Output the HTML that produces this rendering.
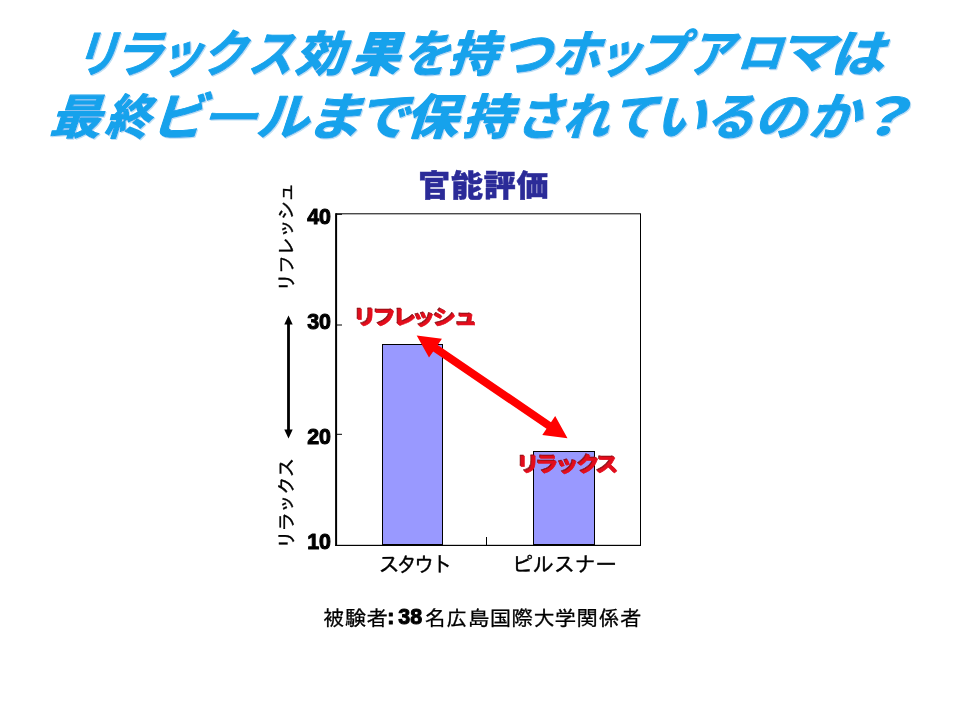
<!DOCTYPE html>
<html lang="ja">
<head>
<meta charset="utf-8">
<title>リラックス効果を持つホップアロマは最終ビールまで保持されているのか？</title>
<style>
html,body{margin:0;padding:0;background:#fff;}
body{width:960px;height:720px;overflow:hidden;position:relative;}
svg{position:absolute;left:0;top:0;display:block;}
.ttl{font-family:"Liberation Sans","Noto Sans CJK JP",sans-serif;font-weight:700;font-size:53.33px;stroke-width:1.1px;stroke-linejoin:round;}
.ct{font-family:"Liberation Sans","Noto Sans CJK JP",sans-serif;font-weight:900;font-size:32px;}
.num{font-family:"Liberation Sans",sans-serif;font-weight:bold;font-size:21.4px;fill:#000;stroke:#000;stroke-width:1px;stroke-linejoin:round;}
.ax{font-family:"Liberation Sans","IPAGothic","Noto Sans CJK JP",sans-serif;font-size:21.33px;fill:#000;stroke:#000;stroke-width:0.35px;}
.ay{font-size:20px;}
.red{font-family:"Liberation Sans","Noto Sans CJK JP",sans-serif;font-weight:700;font-size:20.6px;stroke-width:0.6px;stroke-linejoin:round;}
.capn{font-family:"Liberation Sans",sans-serif;font-weight:bold;font-size:21.4px;stroke:#000;stroke-width:1px;stroke-linejoin:round;letter-spacing:0;}
.cap{font-family:"Liberation Sans","IPAGothic","Noto Sans CJK JP",sans-serif;font-size:21.33px;fill:#000;stroke:#000;stroke-width:0.3px;}
</style>
</head>
<body>
<svg width="960" height="720" viewBox="0 0 960 720">
<defs>
  <filter id="sh1" x="-5%" y="-20%" width="110%" height="140%">
    <feOffset in="SourceAlpha" dx="1.3" dy="1.3" result="o"/>
    <feFlood flood-color="#bfe0f4"/>
    <feComposite in2="o" operator="in" result="s"/>
    <feMerge><feMergeNode in="s"/><feMergeNode in="SourceGraphic"/></feMerge>
  </filter>
  <filter id="sh2" x="-5%" y="-30%" width="110%" height="160%">
    <feOffset in="SourceAlpha" dx="-0.7" dy="-0.8" result="o"/>
    <feFlood flood-color="#8a0c14"/>
    <feComposite in2="o" operator="in" result="s"/>
    <feMerge><feMergeNode in="s"/><feMergeNode in="SourceGraphic"/></feMerge>
  </filter>
</defs>
<rect x="0" y="0" width="960" height="720" fill="#fff"/>

<!-- Title -->
<g class="ttl">
<g fill="#14a2ec" stroke="#14a2ec" filter="url(#sh1)">
<text transform="translate(73.2,72.2) skewX(-18) scale(0.807,0.95)">リ</text><text transform="translate(111,72.2) skewX(-18) scale(0.968,0.95)">ラ</text><text transform="translate(157.5,72.2) skewX(-18) scale(0.839,0.95)">ッ</text><text transform="translate(200.5,72.2) skewX(-18) scale(0.833,0.95)">ク</text><text transform="translate(247,72.2) skewX(-18) scale(0.841,0.95)">ス</text><text transform="translate(294.8,70.5) skewX(-18) scale(0.924,0.89)" stroke-width="1.8">効</text><text transform="translate(350.5,70.5) skewX(-18) scale(0.908,0.89)" stroke-width="1.8">果</text><text transform="translate(401,72.2) skewX(-18) scale(0.89,0.95)">を</text><text transform="translate(448,70.5) skewX(-18) scale(0.912,0.89)" stroke-width="1.8">持</text><text transform="translate(499,72.2) skewX(-18) scale(0.971,0.95)">つ</text><text transform="translate(551,72.2) skewX(-18) scale(0.902,0.95)">ホ</text><text transform="translate(595.2,72.2) skewX(-18) scale(0.856,0.95)">ッ</text><text transform="translate(635.8,72.2) skewX(-18) scale(0.939,0.95)">プ</text><text transform="translate(687,72.2) skewX(-18) scale(0.833,0.95)">ア</text><text transform="translate(736,68.1) skewX(-18) scale(0.852,0.8)">ロ</text><text transform="translate(776.8,68.2) skewX(-18) scale(1.102,0.84)">マ</text><text transform="translate(829,72.2) skewX(-18) scale(1.025,0.95)">は</text>
</g>
<g fill="#14a2ec" stroke="#14a2ec" filter="url(#sh1)">
<text transform="translate(49.1,133.5) skewX(-18) scale(0.966,0.89)" stroke-width="1.3">最</text><text transform="translate(104.2,133.5) skewX(-18) scale(0.836,0.89)" stroke-width="1.6">終</text><text transform="translate(149.8,135.2) skewX(-18) scale(1.014,0.95)">ビ</text><text transform="translate(201.1,130.9) skewX(-18) scale(1.068,0.72)">ー</text><text transform="translate(255.2,135.2) skewX(-18) scale(0.988,0.95)">ル</text><text transform="translate(305,135.2) skewX(-18) scale(1.061,0.95)">ま</text><text transform="translate(356,135.2) skewX(-18) scale(0.971,0.95)">で</text><text transform="translate(405,133.5) skewX(-18) scale(0.976,0.89)" stroke-width="1.8">保</text><text transform="translate(462,133.5) skewX(-18) scale(0.934,0.89)" stroke-width="1.8">持</text><text transform="translate(514.2,135.2) skewX(-18) scale(0.895,0.95)">さ</text><text transform="translate(561.5,135.2) skewX(-18) scale(0.87,0.95)">れ</text><text transform="translate(609.5,135.2) skewX(-18) scale(0.854,0.95)">て</text><text transform="translate(652.8,135.2) skewX(-18) scale(0.985,0.95)">い</text><text transform="translate(704,135.2) skewX(-18) scale(0.933,0.95)">る</text><text transform="translate(753,135.2) skewX(-18) scale(0.974,0.95)">の</text><text transform="translate(807.2,135.2) skewX(-18) scale(0.963,0.95)">か</text><text transform="translate(849.5,135.2) skewX(-18) scale(1.25,0.95)">？</text>
</g>
</g>

<!-- Chart title -->
<text class="ct" transform="translate(418.3,195.8) scale(1,0.93)" fill="#2b2b98" stroke="#2b2b98" stroke-width="0.5" letter-spacing="0.75">官能評価</text>

<!-- Plot frame -->
<rect x="336" y="213.8" width="304.5" height="331.6" fill="#fff" stroke="#000" stroke-width="1"/>
<rect x="335.2" y="213.3" width="1.9" height="332.6" fill="#000"/>
<rect x="335.2" y="544.9" width="305.8" height="1" fill="#000"/>
<!-- ticks -->
<g stroke="#000" stroke-width="1" fill="none">
  <path d="M336.5 214.3h5.5M336.5 325h5.5M336.5 434.3h5.5"/>
  <path d="M486.5 537v8"/>
</g>
<!-- bars -->
<rect x="382.5" y="344.5" width="60" height="200" fill="#9999ff" stroke="#000" stroke-width="1"/>
<rect x="533.5" y="451.5" width="61" height="93" fill="#9999ff" stroke="#000" stroke-width="1"/>

<!-- y labels -->
<g class="num" text-anchor="end">
  <text x="331" y="223.6">40</text>
  <text x="331" y="329.3">30</text>
  <text x="331" y="443.6">20</text>
  <text x="331" y="548.6">10</text>
</g>

<!-- vertical axis text -->
<text class="ax ay" transform="translate(292.8,292.2) rotate(-90) scale(1,0.95)" letter-spacing="-2">リフレッシュ</text>
<text class="ax ay" transform="translate(292.8,549.5) rotate(-90) scale(1,0.95)" letter-spacing="-2">リラックス</text>

<!-- black double arrow -->
<g fill="#000" stroke="none">
  <rect x="287.1" y="322" width="2.8" height="110"/>
  <path d="M288.5 315.5l4.2 8.9h-8.4z"/>
  <path d="M288.5 438.5l4.2 -8.9h-8.4z"/>
</g>

<!-- x labels -->
<text class="ax" x="378.5" y="572.3" letter-spacing="-3.7">スタウト</text>
<text class="ax" x="511.8" y="572.3" letter-spacing="-0.4">ピルスナー</text>

<!-- red arrow -->
<path fill="#ff0000" d="M416.7 335.4 L441.9 338.8 L437.7 344.9 L551.0 422.2 L555.2 416.1 L567.5 438.3 L542.3 434.9 L546.5 428.8 L433.2 351.5 L429.0 357.6 Z"/>

<!-- red labels -->
<g class="red" fill="#e30d1c" stroke="#e30d1c">
  <g transform="translate(0,325) scale(1.13,1)" filter="url(#sh2)"><text x="312.8 330 348 364.9 383.3 402.2" y="0">リフレッシュ</text></g>
  <g transform="translate(0,472.3) scale(1.13,1)" filter="url(#sh2)"><text x="457.1 473.9 491.9 510.4 527.1" y="0">リラックス</text></g>
</g>

<!-- caption -->
<text class="cap" x="323" y="625.8" letter-spacing="0.4">被験者<tspan class="capn" x="387.3" dy="-1.7">:</tspan><tspan class="capn" x="398.3">38</tspan><tspan x="424.5" dy="1.7">名広島国際大学関係者</tspan></text>
</svg>
</body>
</html>
